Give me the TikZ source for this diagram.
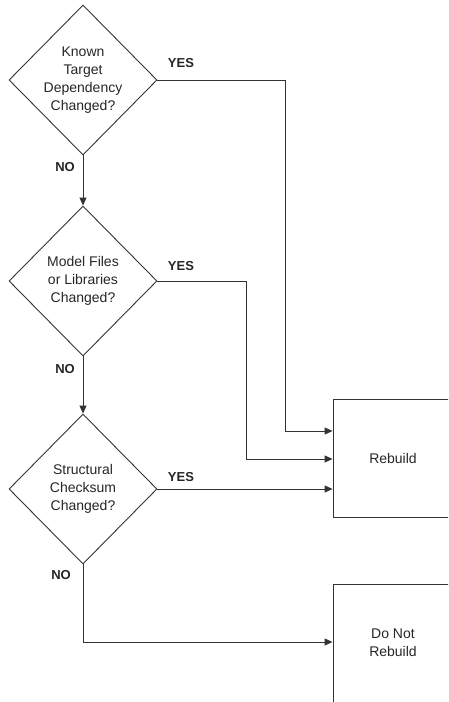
\documentclass[tikz,border=0pt]{standalone}
\usepackage{fontspec}
\setmainfont{Liberation Sans}
\usetikzlibrary{arrows.meta,shapes.geometric}
\definecolor{lineGrey}{HTML}{333333}

\begin{document}
\begin{tikzpicture}[x=1pt,y=-1pt,
    every node/.style={font=\fontsize{14}{18}\selectfont,text=black!85},
    decision/.style={diamond,draw=lineGrey,line width=0.9pt,align=center,inner sep=0pt,
      minimum width=148pt,minimum height=150pt},
    outcome/.style={rectangle,draw=lineGrey,line width=0.9pt,align=center,
      minimum width=120pt,minimum height=118pt},
    flow/.style={draw=lineGrey,line width=0.9pt,-{Triangle[length=8pt,width=7pt]}},
    answer/.style={font=\bfseries\fontsize{13}{15}\selectfont}]
  \clip (0,0) rectangle (448,702);
  % decisions
  \node[decision] (known) at (83,80) {Known\\Target\\Dependency\\Changed?};
  \node[decision] (model) at (83,281) {Model Files\\or Libraries\\Changed?};
  \node[decision] (structural) at (83,489) {Structural\\Checksum\\Changed?};
  % outcomes
  \node[outcome] (rebuild) at (393,458) {Rebuild};
  \node[outcome] (skip) at (393,643) {Do Not\\Rebuild};
  \coordinate (bendKnown) at (285,0);
  \coordinate (bendModel) at (246,0);
  % connectors
  \draw[flow] (known.south) -- (model.north);
  \draw[flow] (model.south) -- (structural.north);
  \draw[flow] (known.east) -- (known.east -| bendKnown) |- ([yshift=27pt]rebuild.west);
  \draw[flow] (model.east) -- (model.east -| bendModel) |- ([yshift=-1pt]rebuild.west);
  \draw[flow] (structural.east) -- (structural.east -| rebuild.west);
  \draw[flow] (structural.south) |- ([yshift=1pt]skip.west);
  % answers
  \node[answer] (yesKnown) at (181,63) {YES};
  \node[answer] (yesModel) at (181,266) {YES};
  \node[answer] (yesStructural) at (181,477) {YES};
  \node[answer] (noKnown) at (65,167) {NO};
  \node[answer] (noModel) at (65,369) {NO};
  \node[answer] (noStructural) at (61,575) {NO};
\end{tikzpicture}
\end{document}
